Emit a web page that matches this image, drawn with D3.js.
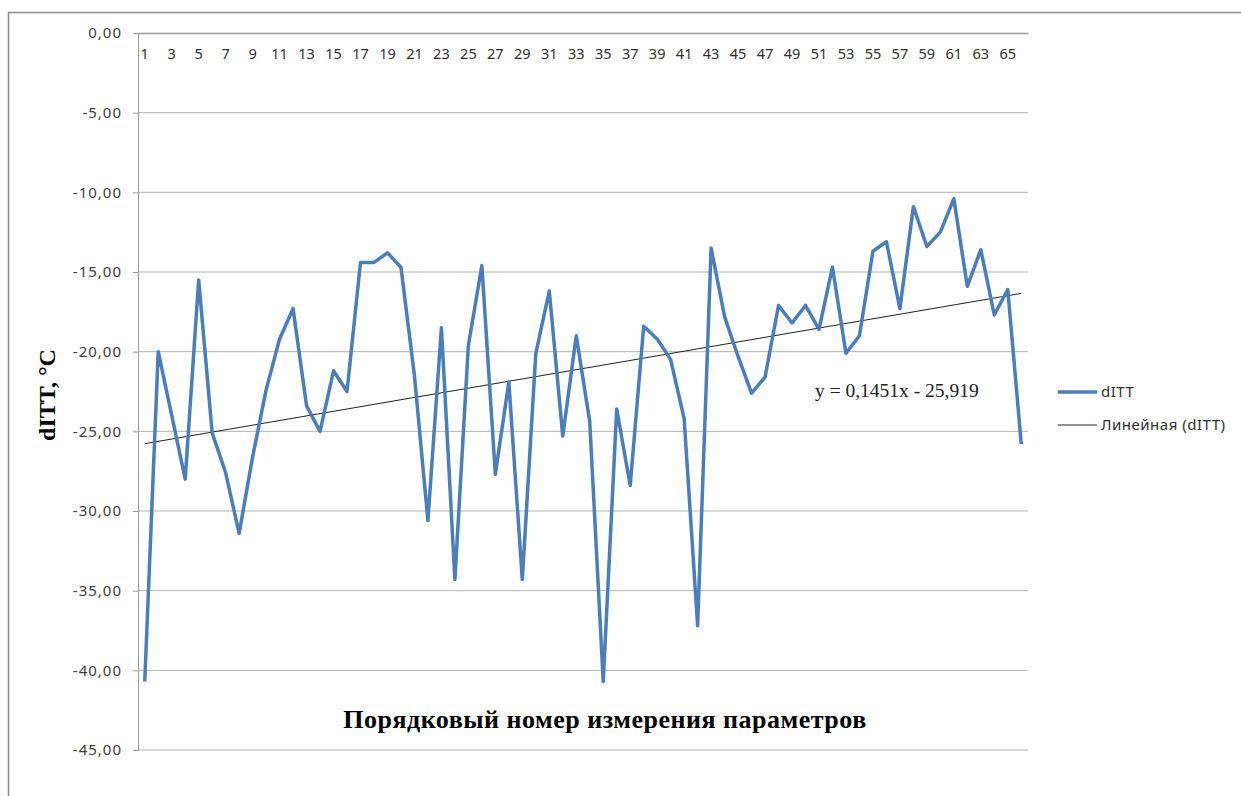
<!DOCTYPE html>
<html>
<head>
<meta charset="utf-8">
<script src="https://cdn.jsdelivr.net/npm/d3@7"></script>
<style>
  body { margin: 0; background: #fff; }
  svg { display: block; }
</style>
</head>
<body>
<svg id="chart" width="1241" height="796"></svg>
<script>
const measures = d3.range(1, 67);
const dITT = [
  -40.7, -20.0, -24.0, -28.0, -15.5, -25.1, -27.6, -31.4, -26.6, -22.4,
  -19.2, -17.3, -23.4, -25.0, -21.2, -22.5, -14.4, -14.4, -13.8, -14.7,
  -21.5, -30.6, -18.5, -34.3, -19.6, -14.6, -27.7, -21.9, -34.3, -20.1,
  -16.2, -25.3, -19.0, -24.4, -40.7, -23.6, -28.4, -18.4, -19.2, -20.5,
  -24.2, -37.2, -13.5, -17.8, -20.3, -22.6, -21.6, -17.1, -18.2, -17.1,
  -18.6, -14.7, -20.1, -19.0, -13.7, -13.1, -17.3, -10.9, -13.4, -12.5,
  -10.4, -15.9, -13.6, -17.7, -16.1, -25.8
];
const yTicks = [0, -5, -10, -15, -20, -25, -30, -35, -40, -45];
const trendSlope = 0.1451;
const trendIntercept = -25.919;

const svg = d3.select("#chart");
const margin = { left: 138, top: 33, right: 213, bottom: 46 };
const width = 1241 - margin.left - margin.right;
const height = 796 - margin.top - margin.bottom;

// outer chart border (cut off at right and bottom, as in the picture)
svg.append("rect")
  .attr("x", 8.5).attr("y", 12.5)
  .attr("width", 1260).attr("height", 820)
  .attr("fill", "none").attr("stroke", "#8c8c8c").attr("stroke-width", 1.5);

const g = svg.append("g").attr("transform", `translate(${margin.left},${margin.top})`);

const x = d3.scaleBand().domain(measures).range([0, width]);
const y = d3.scaleLinear().domain([0, -45]).range([0, height]);
const cx = d => x(d) + x.bandwidth() / 2;

// gridlines
g.append("g")
  .selectAll("line")
  .data(yTicks.slice(1))
  .join("line")
    .attr("x1", 0).attr("x2", width)
    .attr("y1", d => y(d)).attr("y2", d => y(d))
    .attr("stroke", "#b3b3b3").attr("stroke-width", 1);

// y axis
const yAxis = g.append("g")
  .call(d3.axisLeft(y).tickValues(yTicks).tickSize(5).tickPadding(11)
    .tickFormat(d => d3.format(".2f")(d).replace("−", "-").replace(".", ",")));
yAxis.select(".domain").attr("stroke", "#999");
yAxis.selectAll(".tick line").attr("stroke", "#999");
yAxis.selectAll("text")
  .attr("font-family", "'Noto Sans', sans-serif")
  .attr("font-size", 15).attr("letter-spacing", 1)
  .attr("fill", "#404040");

// category axis along the zero line, labels on every other measurement
const xAxis = g.append("g")
  .call(d3.axisBottom(x).tickSize(0).tickPadding(16)
    .tickValues(measures.filter(d => d % 2 === 1)));
xAxis.select(".domain").attr("stroke", "#999").attr("stroke-width", 1.5);
xAxis.selectAll("text")
  .attr("font-family", "'Noto Sans', sans-serif")
  .attr("font-size", 14.5).attr("fill", "#303030");

// trend line
g.append("line")
  .attr("x1", cx(1)).attr("x2", cx(66))
  .attr("y1", y(trendSlope * 1 + trendIntercept))
  .attr("y2", y(trendSlope * 66 + trendIntercept))
  .attr("stroke", "#222").attr("stroke-width", 1);

// data line
const line = d3.line()
  .x((d, i) => cx(measures[i]))
  .y(d => y(d));

g.append("path")
  .datum(dITT)
  .attr("d", line)
  .attr("fill", "none")
  .attr("stroke", "#4a7ebb")
  .attr("stroke-width", 3.5)
  .attr("stroke-linejoin", "round");

// trend equation
g.append("text")
  .attr("x", 677).attr("y", 364)
  .attr("font-family", "'Liberation Serif', serif")
  .attr("font-size", 19.5).attr("fill", "#222")
  .text("y = 0,1451x - 25,919");

// axis titles
svg.append("text")
  .attr("transform", "translate(55,395) rotate(-90)")
  .attr("text-anchor", "middle")
  .attr("font-family", "'Liberation Serif', serif")
  .attr("font-weight", "bold").attr("font-size", 24)
  .text("dITT, °C");

svg.append("text")
  .attr("x", 605).attr("y", 728)
  .attr("text-anchor", "middle")
  .attr("font-family", "'Liberation Serif', serif")
  .attr("font-weight", "bold").attr("font-size", 26)
  .attr("letter-spacing", 0.5)
  .text("Порядковый номер измерения параметров");

// legend
const legend = svg.append("g").attr("transform", "translate(1058,0)");
const legendItems = [
  { label: "dITT", color: "#4a7ebb", w: 3.5, yPos: 392 },
  { label: "Линейная (dITT)", color: "#222", w: 1, yPos: 425 }
];
legend.selectAll("line")
  .data(legendItems)
  .join("line")
    .attr("x1", 0).attr("x2", 39)
    .attr("y1", d => d.yPos).attr("y2", d => d.yPos)
    .attr("stroke", d => d.color).attr("stroke-width", d => d.w);
legend.selectAll("text")
  .data(legendItems)
  .join("text")
    .attr("x", 43).attr("y", d => d.yPos + 5)
    .attr("font-family", "'Noto Sans', sans-serif")
    .attr("font-size", 15).attr("letter-spacing", 0.5)
    .attr("fill", "#303030")
    .text(d => d.label);
</script>
</body>
</html>
